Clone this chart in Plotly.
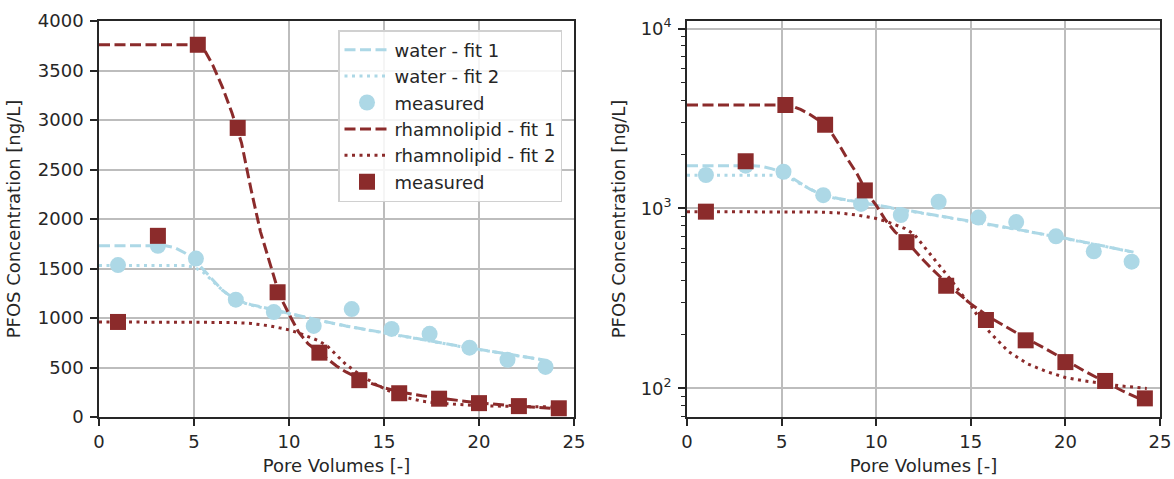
import plotly.graph_objects as go

# ---------------- data ----------------
water_meas_x = [1.0, 3.1, 5.1, 7.2, 9.2, 11.3, 13.3, 15.4, 17.4, 19.5, 21.5, 23.5]
water_meas_y = [1535, 1730, 1600, 1185, 1060, 920, 1090, 890, 840, 700, 578, 506]

rham_meas_x = [1.0, 3.1, 5.2, 7.3, 9.4, 11.6, 13.7, 15.8, 17.9, 20.0, 22.1, 24.2]
rham_meas_y = [960, 1830, 3760, 2920, 1260, 650, 372, 240, 185, 140, 110, 88]

water_fit1_x = [0, 3.5, 4, 4.5, 5, 5.5, 6, 6.5, 7, 7.5, 8, 9, 10, 11, 12, 13, 14, 15, 16, 17, 18, 19, 20, 21, 22, 23, 23.6]
water_fit1_y = [1730, 1730, 1710, 1660, 1590, 1490, 1380, 1280, 1210, 1165, 1135, 1090, 1045, 1000, 960, 920, 885, 850, 815, 780, 748, 715, 683, 650, 620, 590, 572]

water_fit2_x = [0, 4.5, 5, 5.5, 6, 6.5, 7, 7.5, 8, 9, 10, 11, 12, 13, 14, 15, 16, 17, 18, 19, 20, 21, 22, 23, 23.6]
water_fit2_y = [1530, 1530, 1515, 1460, 1370, 1280, 1205, 1160, 1130, 1085, 1042, 998, 958, 918, 883, 848, 813, 778, 746, 713, 681, 648, 618, 588, 570]

rham_fit1_x = [0, 5.2, 5.6, 6, 6.5, 7, 7.5, 8, 8.5, 9, 9.5, 10, 10.5, 11, 11.5, 12, 12.5, 13, 14, 15, 16, 17, 18, 19, 20, 21, 22, 23, 24.3]
rham_fit1_y = [3760, 3760, 3690, 3550, 3330, 3070, 2770, 2300, 1870, 1550, 1230, 1040, 860, 740, 665, 590, 515, 455, 362, 295, 248, 215, 188, 165, 143, 125, 110, 97, 84]

rham_fit2_x = [0, 5, 7, 8, 8.5, 9, 9.5, 10, 10.5, 11, 11.5, 12, 12.5, 13, 13.5, 14, 14.5, 15, 15.5, 16, 17, 18, 19, 20, 21, 22, 23, 24.3]
rham_fit2_y = [960, 960, 955, 945, 935, 920, 900, 880, 850, 815, 775, 720, 620, 530, 460, 395, 335, 290, 240, 205, 160, 137, 124, 115, 110, 106, 103, 100]

x_ticks = [0, 5, 10, 15, 20, 25]
lin_y_ticks = [0, 500, 1000, 1500, 2000, 2500, 3000, 3500, 4000]
log_y_ticks = [100, 1000, 10000]
log_y_ticktext = ["10<sup>2</sup>", "10<sup>3</sup>", "10<sup>4</sup>"]
log_minor = [70, 80, 90, 200, 300, 400, 500, 600, 700, 800, 900,
             2000, 3000, 4000, 5000, 6000, 7000, 8000, 9000]

# ---------------- style ----------------
BLUE = "#add8e6"
RED = "#8b2b2b"
TXT = "#262626"
GRID = "#bdbdbd"
LW = 3
DASH = "11px,4.5px"
DOT = "3px,4.5px"
FS = 18

fig = go.Figure()

def add_set(xa, ya, show):
    fig.add_trace(go.Scatter(x=water_fit1_x, y=water_fit1_y, mode="lines", name="water - fit 1",
                             line=dict(color=BLUE, width=LW, dash=DASH), xaxis=xa, yaxis=ya,
                             showlegend=show, legendgroup="g1"))
    fig.add_trace(go.Scatter(x=water_fit2_x, y=water_fit2_y, mode="lines", name="water - fit 2",
                             line=dict(color=BLUE, width=LW, dash=DOT), xaxis=xa, yaxis=ya,
                             showlegend=show, legendgroup="g2"))
    fig.add_trace(go.Scatter(x=water_meas_x, y=water_meas_y, mode="markers", name="measured",
                             marker=dict(color=BLUE, size=16, symbol="circle"), xaxis=xa, yaxis=ya,
                             showlegend=show, legendgroup="g3"))
    fig.add_trace(go.Scatter(x=rham_fit1_x, y=rham_fit1_y, mode="lines", name="rhamnolipid - fit 1",
                             line=dict(color=RED, width=LW, dash=DASH), xaxis=xa, yaxis=ya,
                             showlegend=show, legendgroup="g4"))
    fig.add_trace(go.Scatter(x=rham_fit2_x, y=rham_fit2_y, mode="lines", name="rhamnolipid - fit 2",
                             line=dict(color=RED, width=LW, dash=DOT), xaxis=xa, yaxis=ya,
                             showlegend=show, legendgroup="g5"))
    fig.add_trace(go.Scatter(x=rham_meas_x, y=rham_meas_y, mode="markers", name="measured",
                             marker=dict(color=RED, size=16, symbol="square"), xaxis=xa, yaxis=ya,
                             showlegend=show, legendgroup="g6"))

add_set("x", "y", True)
add_set("x2", "y2", False)

axis_common = dict(showline=True, linecolor=TXT, linewidth=1.6, mirror=True,
                   ticks="outside", ticklen=7, tickwidth=1.6, tickcolor=TXT,
                   showgrid=True, gridcolor=GRID, gridwidth=2, zeroline=False, automargin=False,
                   tickfont=dict(size=FS, color=TXT, family="DejaVu Sans"))

ydom = [62 / 479, 1 - 21 / 479]

fig.update_layout(
    width=1174, height=479,
    margin=dict(l=0, r=0, t=0, b=0, autoexpand=False),
    paper_bgcolor="white", plot_bgcolor="white",
    font=dict(family="DejaVu Sans", size=FS, color=TXT),
    xaxis=dict(domain=[99 / 1174, 574 / 1174], range=[0, 25], tickvals=x_ticks, ticklabelstandoff=1,
               title=dict(text="Pore Volumes [-]", font=dict(size=FS), standoff=8), **axis_common),
    yaxis=dict(domain=ydom, range=[0, 4000], tickvals=lin_y_ticks, ticklabelstandoff=3,
               title=dict(text="PFOS Concentration [ng/L]", font=dict(size=FS), standoff=12), **axis_common),
    xaxis2=dict(domain=[687 / 1174, 1160 / 1174], range=[0, 25], tickvals=x_ticks, anchor="y2",
                ticklabelstandoff=1,
                title=dict(text="Pore Volumes [-]", font=dict(size=FS), standoff=8), **axis_common),
    yaxis2=dict(domain=ydom, type="log", range=[1.841, 4.042], tickvals=log_y_ticks,
                ticktext=log_y_ticktext, anchor="x2", ticklabelstandoff=3,
                minor=dict(tickvals=log_minor, ticks="outside", ticklen=4, tickwidth=1.3, tickcolor=TXT, showgrid=False),
                title=dict(text="PFOS Concentration [ng/L]", font=dict(size=FS), standoff=10), **axis_common),
    legend=dict(x=338 / 1174, xanchor="left", y=1 - 30 / 479, yanchor="top",
                bgcolor="rgba(255,255,255,0.85)", bordercolor="#d0d0d0", borderwidth=1.5,
                font=dict(size=FS, color=TXT), tracegroupgap=0, itemwidth=45),
)

fig.write_html("out.html")
